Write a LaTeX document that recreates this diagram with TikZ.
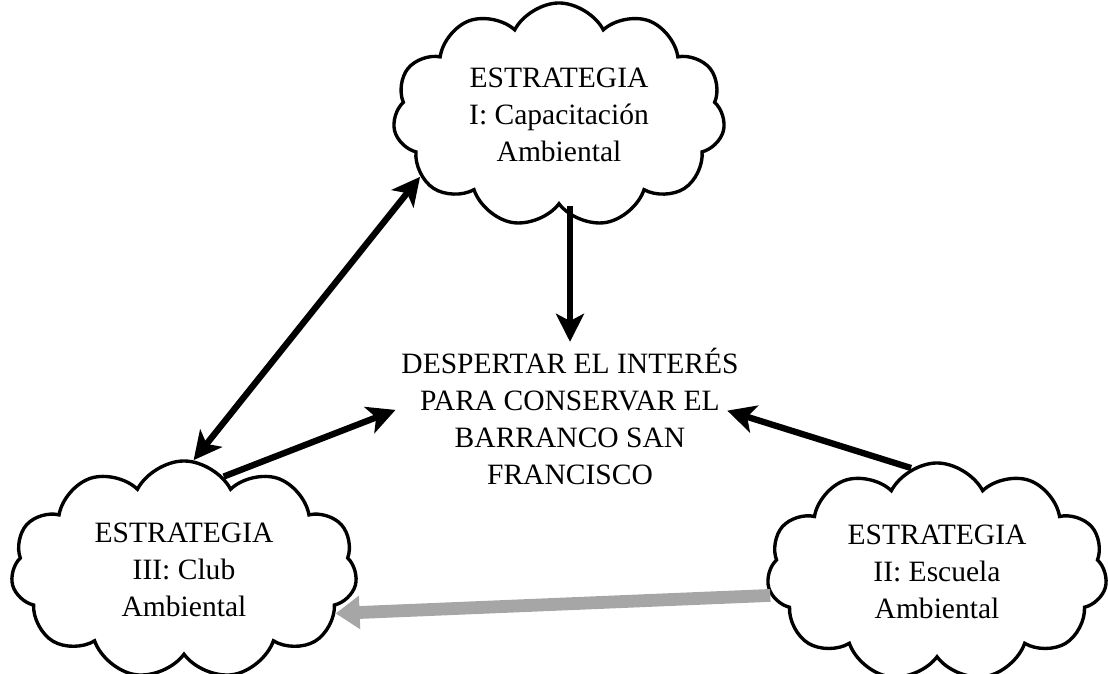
\documentclass[tikz,border=0pt]{standalone}
\usepackage{fontspec}
\setmainfont{Liberation Serif}
\usetikzlibrary{arrows.meta,shapes.symbols}
\tikzset{
  puff/.style={cloud, cloud puffs=11, cloud puff arc=125, cloud ignores aspect,
    draw, line width=2.4pt, align=center, inner sep=0pt,
    font=\fontsize{21}{26.3}\selectfont},
  goaltext/.style={align=center, inner sep=4pt, font=\fontsize{21}{26.3}\selectfont},
  tipbig/.tip={Stealth[length=7mm,width=7mm,inset=1.8mm]},
  bigarrow/.style={line width=4.5pt, -tipbig},
  twoarrow/.style={line width=4.5pt, tipbig-tipbig},
  fadearrow/.style={line width=3.2mm, color=black!35, -{Triangle[length=6mm,width=8mm]}}
}

\begin{document}
\begin{tikzpicture}[x=0.025cm, y=-0.025cm]
		%%%%% START %%%%%
		\useasboundingbox (0, 0) rectangle (1108, 674);
		
		\node[puff, minimum width=8.3cm, minimum height=5.6cm] (est1) at (559, 115)
			{ESTRATEGIA\\I: Capacitación\\Ambiental};
		\node[puff, minimum width=8.65cm, minimum height=5.45cm] (est3) at (184, 570)
			{ESTRATEGIA\\III: Club\\Ambiental};
		\node[puff, minimum width=8.5cm, minimum height=5.45cm] (est2) at (937, 572)
			{ESTRATEGIA\\II: Escuela\\Ambiental};
		
		\node[goaltext] (goal) at (570, 416)
			{DESPERTAR EL INTERÉS\\PARA CONSERVAR EL\\BARRANCO SAN\\FRANCISCO};
		
		\draw[bigarrow] (goal.north |- est1.south) -- (goal.north);
		\draw[twoarrow] (est1.204) -- (est3.85);
		\draw[bigarrow] (est3.67) -- (goal.178);
		\draw[bigarrow, shorten >=-0.45cm] (est2.104) -- (goal.east);
		
		\draw[fadearrow] (est2.188) -- (est3.-16);
		
		%%%%% END %%%%%
	\end{tikzpicture}
\end{document}
